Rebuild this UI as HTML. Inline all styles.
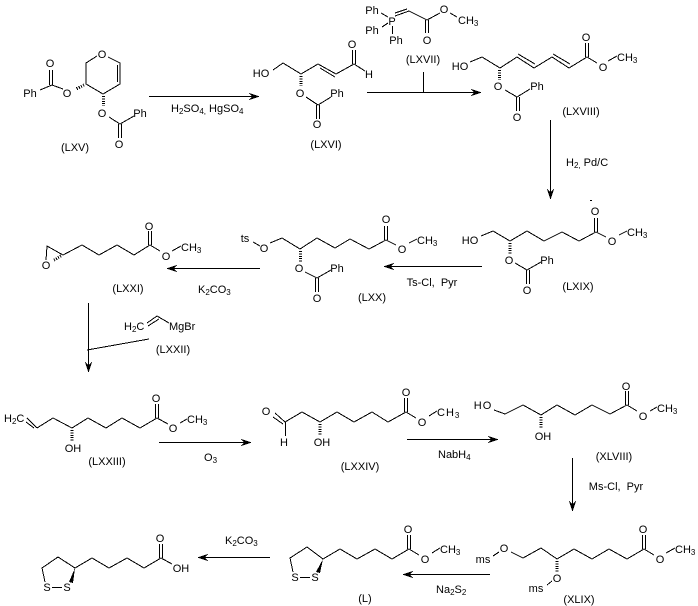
<!DOCTYPE html>
<html><head><meta charset="utf-8"><style>
html,body{margin:0;padding:0;background:#fff}
svg{display:block}
text{font-family:"Liberation Sans",Arial,sans-serif;font-size:11px;fill:#000;text-anchor:middle}
.s{text-anchor:start}
.b{fill:none;stroke:#000;stroke-width:1;shape-rendering:crispEdges}
.h{fill:none;stroke:#000;stroke-width:3;stroke-dasharray:1 1.4;shape-rendering:crispEdges}
.w{fill:#000;stroke:none;shape-rendering:crispEdges}
</style></head><body>
<svg width="698" height="606" viewBox="0 0 698 606" xmlns="http://www.w3.org/2000/svg">
<rect width="698" height="606" fill="#fff"/>
<g class="b">
<!-- LXV -->
<polyline points="97,56 86,63 86,84 103,94 120,84 120,63 108,57"/><line x1="117.500" y1="65" x2="117.500" y2="82"/>
<polyline points="63,89 52,85 40,90"/><line x1="49.500" y1="70" x2="49.500" y2="85"/><line x1="52.500" y1="70" x2="52.500" y2="85"/>
<polyline points="109,117 120,124 134,116"/><line x1="118.500" y1="124" x2="118.500" y2="138"/><line x1="121.500" y1="124" x2="121.500" y2="138"/>
<!-- arrow1 -->
<line x1="149" y1="96.500" x2="258" y2="96.500"/>
<!-- LXVI -->
<polyline points="273,70 283,63 301,74 318,64 336,74 354,64 365,71"/><line x1="320" y1="68" x2="335" y2="77"/>
<line x1="352.500" y1="50" x2="352.500" y2="64"/><line x1="355.500" y1="50" x2="355.500" y2="64"/>
<polyline points="306,97 318,105 331,97"/><line x1="316.500" y1="105" x2="316.500" y2="119"/><line x1="319.500" y1="105" x2="319.500" y2="119"/>
<!-- arrow2 -->
<line x1="367" y1="92.500" x2="480" y2="92.500"/><line x1="423.500" y1="72" x2="423.500" y2="92"/>
<!-- LXVII -->
<line x1="381" y1="13" x2="388" y2="17"/><line x1="382" y1="27" x2="388" y2="23"/><line x1="392.500" y1="26" x2="392.500" y2="34"/>
<line x1="395" y1="16" x2="409" y2="11"/><line x1="395" y1="13" x2="407" y2="9"/>
<polyline points="409,11 427,20 440,13"/><line x1="425.500" y1="20" x2="425.500" y2="33"/><line x1="428.500" y1="20" x2="428.500" y2="33"/>
<line x1="450" y1="13" x2="457" y2="17"/>
<!-- LXVIII -->
<polyline points="470,62 482,57 500,68 517,57 534,68 552,57 569,68 587,57 597,63"/>
<line x1="518" y1="54" x2="535" y2="64"/><line x1="553" y1="54" x2="570" y2="64"/>
<line x1="585.500" y1="43" x2="585.500" y2="57"/><line x1="588.500" y1="43" x2="588.500" y2="57"/>
<line x1="608" y1="61" x2="617" y2="56"/>
<polyline points="505,90 517,97 530,89"/><line x1="516.500" y1="97" x2="516.500" y2="111"/><line x1="519.500" y1="97" x2="519.500" y2="111"/>
<!-- arrow3 -->
<line x1="550.500" y1="120" x2="550.500" y2="198"/>
<!-- LXIX -->
<polyline points="481,236 493,231 510,241 527,231 544,241 562,232 579,241 596,232 606,237"/>
<line x1="594.500" y1="218" x2="594.500" y2="232"/><line x1="597.500" y1="218" x2="597.500" y2="232"/>
<line x1="619" y1="235" x2="627" y2="231"/>
<polyline points="515,263 527,270 541,262"/><line x1="526.500" y1="270" x2="526.500" y2="284"/><line x1="529.500" y1="270" x2="529.500" y2="284"/>
<!-- arrow4 -->
<line x1="482" y1="266.500" x2="385" y2="266.500"/>
<!-- LXX -->
<line x1="253" y1="242" x2="260" y2="246"/>
<polyline points="270,243 282,238 300,249 317,238 335,248 350,239 369,249 386,240 396,245"/>
<line x1="384.500" y1="226" x2="384.500" y2="240"/><line x1="387.500" y1="226" x2="387.500" y2="240"/>
<line x1="409" y1="243" x2="417" y2="239"/>
<polyline points="305,272 317,278 331,270"/><line x1="315.500" y1="278" x2="315.500" y2="292"/><line x1="318.500" y1="278" x2="318.500" y2="292"/>
<!-- arrow5 -->
<line x1="260" y1="268.500" x2="168" y2="268.500"/>
<!-- LXXI -->
<polyline points="46,260 47,246 63,255 82,245 99,255 117,245 134,255 150,245 160,251"/>
<line x1="148.500" y1="231" x2="148.500" y2="245"/><line x1="151.500" y1="231" x2="151.500" y2="245"/>
<line x1="172" y1="251" x2="181" y2="246"/>
<!-- arrow6 -->
<line x1="88.500" y1="303" x2="88.500" y2="371"/><line x1="87" y1="350" x2="149" y2="339"/>
<!-- LXXII -->
<polyline points="147,323 157,316 169,323"/><line x1="148" y1="326" x2="159" y2="319"/>
<!-- LXXIII -->
<line x1="27" y1="418" x2="37" y2="428"/><line x1="26" y1="422" x2="34" y2="428"/>
<polyline points="37,428 53,418 72,428 88,418 106,428 122,418 140,428 157,418 168,424"/>
<line x1="155.500" y1="404" x2="155.500" y2="418"/><line x1="158.500" y1="404" x2="158.500" y2="418"/>
<line x1="180" y1="423" x2="187" y2="419"/>
<!-- arrow7 -->
<line x1="159" y1="442.500" x2="250" y2="442.500"/>
<!-- LXXIV -->
<line x1="275" y1="413" x2="285" y2="422"/><line x1="273" y1="417" x2="283" y2="424"/>
<line x1="285.500" y1="422" x2="285.500" y2="436"/>
<polyline points="285,422 302,412 320,422 337,412 354,422 372,412 388,422 406,412 416,418"/>
<line x1="404.500" y1="398" x2="404.500" y2="412"/><line x1="407.500" y1="398" x2="407.500" y2="412"/>
<line x1="429" y1="416" x2="437" y2="411"/>
<!-- arrow8 -->
<line x1="407" y1="439.500" x2="497" y2="439.500"/>
<!-- XLVIII -->
<polyline points="494,410 505,414 523,405 541,415 557,405 575,415 592,405 610,414 627,405 637,411"/>
<line x1="625.500" y1="391" x2="625.500" y2="405"/><line x1="628.500" y1="391" x2="628.500" y2="405"/>
<line x1="650" y1="411" x2="657" y2="407"/>
<!-- arrow9 -->
<line x1="572.500" y1="458" x2="572.500" y2="510"/>
<!-- XLIX -->
<line x1="493" y1="556" x2="499" y2="552"/>
<polyline points="511,552 523,558 541,548 557,559 574,549 592,559 609,549 627,559 644,549 654,555"/>
<line x1="642.500" y1="535" x2="642.500" y2="549"/><line x1="645.500" y1="535" x2="645.500" y2="549"/>
<line x1="666" y1="553" x2="675" y2="548"/>
<line x1="552" y1="581" x2="547" y2="585"/>
<!-- arrow10 -->
<line x1="490" y1="574.500" x2="404" y2="574.500"/>
<!-- L -->
<polyline points="293,572 290,558 307,547 323,559 340,549 357,559 375,549 392,559 409,549 419,555"/>
<line x1="300" y1="577.500" x2="310" y2="577.500"/>
<line x1="407.500" y1="535" x2="407.500" y2="549"/><line x1="410.500" y1="535" x2="410.500" y2="549"/>
<line x1="432" y1="553" x2="440" y2="548"/>
<!-- arrow11 -->
<line x1="270" y1="557.500" x2="199" y2="557.500"/>
<!-- Lipoic -->
<polyline points="45,582 42,568 58,557 75,568 92,558 109,568 127,558 144,568 161,558 172,564"/>
<line x1="52" y1="587.500" x2="62" y2="587.500"/>
<line x1="159.500" y1="544" x2="159.500" y2="558"/><line x1="162.500" y1="544" x2="162.500" y2="558"/>
</g>
<!-- hash bonds -->
<g class="h">
<line x1="84" y1="85" x2="76" y2="89"/>
<line x1="103.500" y1="96" x2="103.500" y2="106"/>
<line x1="301" y1="76" x2="301" y2="86"/>
<line x1="499.500" y1="70" x2="499.500" y2="80"/>
<line x1="510" y1="243" x2="510" y2="254"/>
<line x1="300.500" y1="251" x2="300.500" y2="262"/>
<line x1="61" y1="256" x2="54" y2="260"/>
<line x1="72" y1="430" x2="72" y2="441"/>
<line x1="320" y1="424" x2="320" y2="435"/>
<line x1="541" y1="417" x2="541" y2="429"/>
<line x1="557" y1="561" x2="557" y2="572"/>
</g>
<!-- wedges and arrowheads -->
<g class="w">
<polygon points="323,559 320,573 316,572"/>
<polygon points="75,568 73,583 69,582"/>
<polygon points="260,96.500 249,93 252,96.500 249,100"/>
<polygon points="482,92.500 471,89 474,92.500 471,96"/>
<polygon points="550.500,200 547,189 550.500,192 554,189"/>
<polygon points="383,266.500 394,263 391,266.500 394,270"/>
<polygon points="166,268.500 177,265 174,268.500 177,272"/>
<polygon points="88.500,373 85,362 88.500,365 92,362"/>
<polygon points="252,442.500 241,439 244,442.500 241,446"/>
<polygon points="499,439.500 488,436 491,439.500 488,443"/>
<polygon points="572.500,512 569,501 572.500,504 576,501"/>
<polygon points="402,574.500 413,571 410,574.500 413,578"/>
<polygon points="197,557.500 208,554 205,557.500 208,561"/>
<rect x="590" y="200" width="2" height="1"/>
</g>
<!-- LXV text -->
<text x="102" y="58">O</text><text x="67" y="97">O</text><text x="50" y="67">O</text><text x="30" y="97">Ph</text>
<text x="102" y="117">O</text><text x="140" y="117">Ph</text><text x="119" y="148">O</text><text x="75" y="151">(LXV)</text>
<text class="s" x="171" y="112">H<tspan font-size="8" dy="2">2</tspan><tspan dy="-2">SO</tspan><tspan font-size="8" dy="2">4,</tspan><tspan dy="-2"> HgSO</tspan><tspan font-size="8" dy="2">4</tspan></text>
<!-- LXVI text -->
<text x="261" y="77">HO</text><text x="352" y="48">O</text><text x="369" y="78">H</text><text x="300" y="97">O</text><text x="337" y="97">Ph</text><text x="317" y="128">O</text><text x="326" y="148">(LXVI)</text>
<!-- LXVII text -->
<text x="372" y="14">Ph</text><text x="372" y="34">Ph</text><text x="392" y="25">P</text><text x="396" y="44">Ph</text><text x="427" y="44">O</text><text x="444" y="13">O</text>
<text class="s" x="458" y="24">CH<tspan font-size="8" dy="2">3</tspan></text><text x="423" y="63">(LXVII)</text>
<!-- LXVIII text -->
<text x="460" y="70">HO</text><text x="586" y="41">O</text><text x="603" y="71">O</text><text class="s" x="617" y="61">CH<tspan font-size="8" dy="2">3</tspan></text>
<text x="498" y="90">O</text><text x="537" y="90">Ph</text><text x="517" y="121">O</text><text x="581" y="115">(LXVIII)</text>
<text class="s" x="566" y="166">H<tspan font-size="8" dy="2">2,</tspan><tspan dy="-2"> Pd/C</tspan></text>
<!-- LXIX text -->
<text x="470" y="244">HO</text><text x="595" y="215">O</text><text x="612" y="245">O</text><text class="s" x="627" y="236">CH<tspan font-size="8" dy="2">3</tspan></text>
<text x="509" y="264">O</text><text x="547" y="264">Ph</text><text x="527" y="294">O</text><text x="578" y="290">(LXIX)</text>
<text x="432" y="286" xml:space="preserve">Ts-Cl,  Pyr</text>
<!-- LXX text -->
<text x="245" y="242">ts</text><text x="264" y="252">O</text><text x="386" y="223">O</text><text x="402" y="253">O</text><text class="s" x="417" y="244">CH<tspan font-size="8" dy="2">3</tspan></text>
<text x="299" y="272">O</text><text x="337" y="272">Ph</text><text x="317" y="302">O</text><text x="372" y="301">(LXX)</text>
<text class="s" x="198" y="293">K<tspan font-size="8" dy="2">2</tspan><tspan dy="-2">CO</tspan><tspan font-size="8" dy="2">3</tspan></text>
<!-- LXXI text -->
<text x="46" y="269">O</text><text x="149" y="230">O</text><text x="166" y="260">O</text><text class="s" x="181" y="251">CH<tspan font-size="8" dy="2">3</tspan></text><text x="128" y="292">(LXXI)</text>
<!-- LXXII text -->
<text class="s" x="124" y="330">H<tspan font-size="8" dy="2">2</tspan><tspan dy="-2">C</tspan></text><text class="s" x="169" y="330">MgBr</text><text x="173" y="353">(LXXII)</text>
<!-- LXXIII text -->
<text class="s" x="4" y="422">H<tspan font-size="8" dy="2">2</tspan><tspan dy="-2">C</tspan></text><text x="156" y="402">O</text><text x="173" y="432">O</text><text class="s" x="187" y="423">CH<tspan font-size="8" dy="2">3</tspan></text>
<text x="73" y="452">OH</text><text x="107" y="465">(LXXIII)</text>
<text class="s" x="204" y="461">O<tspan font-size="8" dy="2">3</tspan></text>
<!-- LXXIV text -->
<text x="266" y="415">O</text><text x="284" y="446">H</text><text x="322" y="446">OH</text><text x="406" y="396">O</text><text x="422" y="426">O</text>
<text class="s" x="437" y="416" letter-spacing="1">CH<tspan font-size="8" dy="2">3</tspan></text><text x="360" y="470">(LXXIV)</text>
<text class="s" x="438" y="458">NabH<tspan font-size="8" dy="2">4</tspan></text>
<!-- XLVIII text -->
<text x="483" y="409" letter-spacing="1">HO</text><text x="626" y="390">O</text><text x="643" y="420">O</text><text class="s" x="657" y="412">CH<tspan font-size="8" dy="2">3</tspan></text>
<text x="543" y="440">OH</text><text x="614" y="460">(XLVIII)</text>
<text x="616" y="490" xml:space="preserve">Ms-Cl,  Pyr</text>
<!-- XLIX text -->
<text x="483" y="563">ms</text><text x="504" y="552">O</text><text x="643" y="533">O</text><text x="660" y="563">O</text><text class="s" x="675" y="553">CH<tspan font-size="8" dy="2">3</tspan></text>
<text x="557" y="582">O</text><text x="536" y="592">ms</text><text x="579" y="603">(XLIX)</text>
<text class="s" x="436" y="593">Na<tspan font-size="8" dy="2">2</tspan><tspan dy="-2">S</tspan><tspan font-size="8" dy="2">2</tspan></text>
<!-- L text -->
<text x="295" y="581">S</text><text x="315" y="581">S</text><text x="408" y="533">O</text><text x="425" y="563">O</text><text class="s" x="440" y="553">CH<tspan font-size="8" dy="2">3</tspan></text><text x="365" y="602">(L)</text>
<text class="s" x="225" y="544">K<tspan font-size="8" dy="2">2</tspan><tspan dy="-2">CO</tspan><tspan font-size="8" dy="2">3</tspan></text>
<!-- lipoic text -->
<text x="47" y="591">S</text><text x="67" y="591">S</text><text x="160" y="542">O</text><text x="181" y="572">OH</text>
</svg>
</body></html>
